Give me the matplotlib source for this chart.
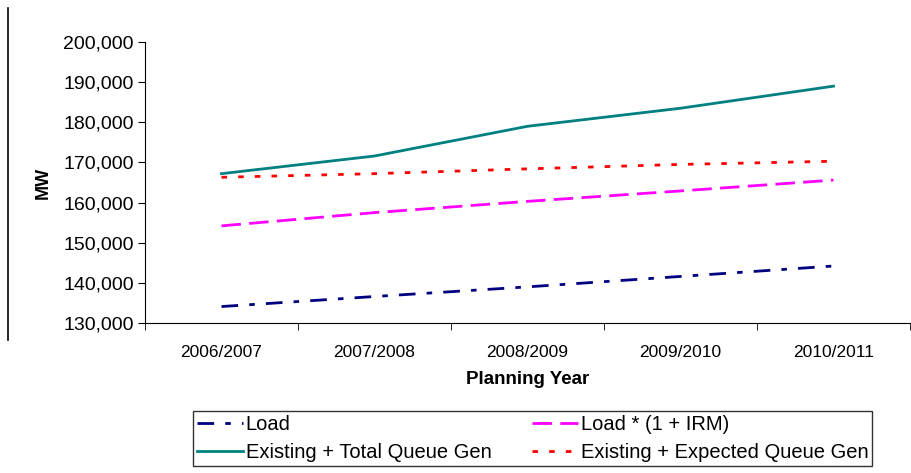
import matplotlib.pyplot as plt
from matplotlib.lines import Line2D
from matplotlib.ticker import FuncFormatter, FixedLocator

plt.rcParams['font.family'] = ['Liberation Sans', 'DejaVu Sans']

years = ['2006/2007', '2007/2008', '2008/2009', '2009/2010', '2010/2011']
load = [134100, 136600, 139000, 141600, 144200]
load_irm = [154200, 157500, 160300, 162900, 165600]
total_queue = [167200, 171600, 179000, 183500, 189000]
expected_queue = [166300, 167200, 168400, 169500, 170300]

fig = plt.figure(figsize=(9.12, 4.73), dpi=100)
ax = fig.add_axes([145 / 912, 1 - 323 / 473, 765 / 912, 281 / 473])

x = range(len(years))
l1, = ax.plot(x, load, color='#000080', lw=2, dashes=(6, 4, 2, 4), label='Load')
l2, = ax.plot(x, load_irm, color='#ff00ff', lw=2, dashes=(7, 3), label='Load * (1 + IRM)')
l3, = ax.plot(x, total_queue, color='#008080', lw=2, label='Existing + Total Queue Gen')
l4, = ax.plot(x, expected_queue, color='#ff0000', lw=2, dashes=(2, 4), label='Existing + Expected Queue Gen')

ax.set_xlim(-0.5, len(years) - 0.5)
ax.set_ylim(130000, 200000)
ax.set_yticks(range(130000, 200001, 10000))
ax.yaxis.set_major_formatter(FuncFormatter(lambda v, p: f'{int(v):,}'))
ax.set_xticks(list(x))
ax.set_xticklabels(years)
ax.xaxis.set_minor_locator(FixedLocator([i - 0.5 for i in range(len(years) + 1)]))
ax.tick_params(axis='x', which='major', length=0, pad=16, labelsize=12.5)
ax.tick_params(axis='x', which='minor', length=5, direction='out')
ax.tick_params(axis='y', length=5, direction='out', labelsize=14, pad=3)
for s in ['top', 'right']:
    ax.spines[s].set_visible(False)
ax.set_xlabel('Planning Year', fontweight='bold', fontsize=13.5, labelpad=8)
ax.set_ylabel('MW', fontweight='bold', fontsize=13, labelpad=8)

leg = fig.legend(handles=[l1, l3, l2, l4], ncol=2, loc='upper left',
                 bbox_to_anchor=(193 / 912, 1 - 411 / 473), frameon=True,
                 fancybox=False, edgecolor='black', fontsize=14.5,
                 handlelength=2.3, handletextpad=0.12, columnspacing=2.0,
                 borderpad=0.2, labelspacing=0.45, borderaxespad=0)
leg.get_frame().set_linewidth(1)

fig.add_artist(Line2D([8 / 912, 8 / 912], [1 - 8 / 473, 1 - 340 / 473],
                      color='black', lw=1.2, transform=fig.transFigure))

fig.savefig('out.png', dpi=100)
